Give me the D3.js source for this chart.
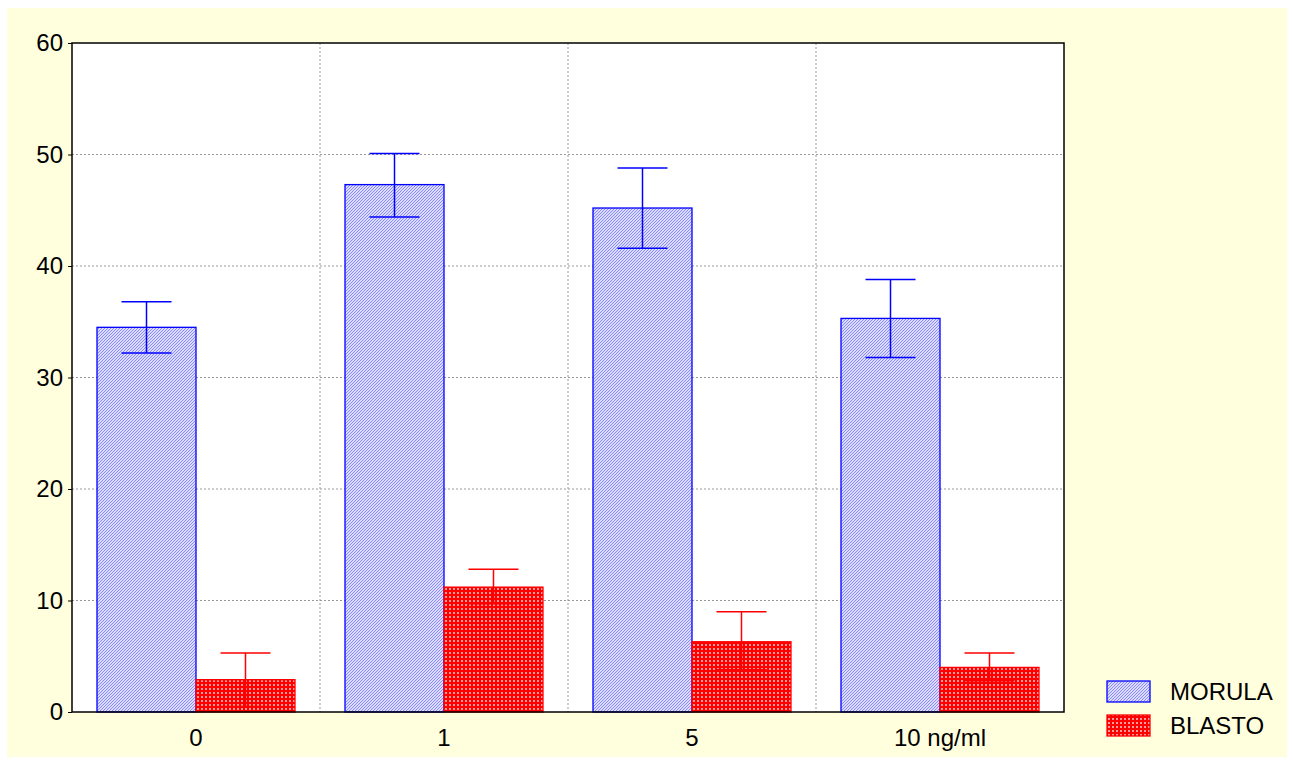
<!DOCTYPE html>
<html>
<head>
<meta charset="utf-8">
<script src="https://cdn.jsdelivr.net/npm/d3@7"></script>
<style>
  body { margin: 0; background: #fff; }
  text { font-family: "Liberation Sans", Arial, sans-serif; }
</style>
</head>
<body>
<div id="container"></div>
<script>
const w = 1293, h = 764;
const categories = ["0", "1", "5", "10 ng/ml"];
const series = ["MORULA", "BLASTO"];
const morula = [34.5, 47.3, 45.2, 35.3];
const morulaLo = [32.2, 44.4, 41.6, 31.8];
const morulaHi = [36.8, 50.1, 48.8, 38.8];
const blasto = [2.9, 11.2, 6.3, 4.0];
const blastoLo = [0.5, 9.7, 3.8, 2.8];
const blastoHi = [5.3, 12.8, 9.0, 5.3];
const yTicks = [0, 10, 20, 30, 40, 50, 60];

const margin = {top: 43, right: 229, bottom: 52, left: 72};
const colors = {MORULA: "#0000ff", BLASTO: "#ff0000"};

var svg = d3.select("div#container")
    .append("svg")
    .attr("width", w)
    .attr("height", h);

// patterns for the hatched fills
var defs = svg.append("defs");
var pm = defs.append("pattern")
    .attr("id", "hatch-blue")
    .attr("patternUnits", "userSpaceOnUse")
    .attr("width", 3).attr("height", 3);
pm.append("rect").attr("width", 3).attr("height", 3).attr("fill", "#dcdcff");
pm.append("path").attr("d", "M0,3 L3,0 M-1,1 L1,-1 M2,4 L4,2")
    .attr("stroke", "#8080ff").attr("stroke-width", 0.9);

var pb = defs.append("pattern")
    .attr("id", "grid-red")
    .attr("patternUnits", "userSpaceOnUse")
    .attr("width", 4).attr("height", 4);
pb.append("rect").attr("width", 4).attr("height", 4).attr("fill", "#ff0000");
pb.append("rect").attr("x", 1).attr("y", 1).attr("width", 2).attr("height", 2).attr("fill", "#ff9a9a");

var fills = {MORULA: "url(#hatch-blue)", BLASTO: "url(#grid-red)"};

// yellow background
svg.append("rect")
    .attr("x", 7).attr("y", 8)
    .attr("width", 1280).attr("height", 749)
    .attr("fill", "#ffffde");

var plotW = w - margin.left - margin.right,
    plotH = h - margin.top - margin.bottom;

var g = svg.append("g").attr("transform", "translate(" + margin.left + "," + margin.top + ")");

g.append("rect").attr("width", plotW).attr("height", plotH).attr("fill", "#fff");

var x0 = d3.scaleBand().domain(categories).range([0, plotW]).paddingInner(0).paddingOuter(0);
var x1 = d3.scaleBand().domain(series).range([25, x0.bandwidth() - 25]);
var y = d3.scaleLinear().domain([0, 60]).range([plotH, 0]);

// grid
g.selectAll(".hgrid").data(yTicks.slice(1, -1)).enter().append("line")
    .attr("x1", 0).attr("x2", plotW)
    .attr("y1", d => y(d)).attr("y2", d => y(d))
    .attr("stroke", "#999").attr("stroke-dasharray", "2,2");
g.selectAll(".vgrid").data(categories.slice(1)).enter().append("line")
    .attr("x1", d => x0(d)).attr("x2", d => x0(d))
    .attr("y1", 0).attr("y2", plotH)
    .attr("stroke", "#999").attr("stroke-dasharray", "2,2");

var rows = categories.map((c, i) => [
    {cat: c, s: "MORULA", v: morula[i], lo: morulaLo[i], hi: morulaHi[i]},
    {cat: c, s: "BLASTO", v: blasto[i], lo: blastoLo[i], hi: blastoHi[i]}
]).flat();

// bars
g.selectAll(".bar").data(rows).enter().append("rect")
    .attr("x", d => x0(d.cat) + x1(d.s))
    .attr("y", d => y(d.v))
    .attr("width", x1.bandwidth())
    .attr("height", d => y(0) - y(d.v))
    .attr("fill", d => fills[d.s])
    .attr("stroke", d => colors[d.s])
    .attr("stroke-width", 1.3);

// error bars
var eb = g.selectAll(".err").data(rows).enter().append("g")
    .attr("stroke", d => colors[d.s]).attr("stroke-width", 1.5);
eb.append("line")
    .attr("x1", d => x0(d.cat) + x1(d.s) + x1.bandwidth() / 2)
    .attr("x2", d => x0(d.cat) + x1(d.s) + x1.bandwidth() / 2)
    .attr("y1", d => y(d.lo)).attr("y2", d => y(d.hi));
eb.selectAll(".cap").data(d => [d.lo, d.hi].map(v => ({d: d, v: v}))).enter().append("line")
    .attr("x1", e => x0(e.d.cat) + x1(e.d.s) + x1.bandwidth() / 2 - 25)
    .attr("x2", e => x0(e.d.cat) + x1(e.d.s) + x1.bandwidth() / 2 + 25)
    .attr("y1", e => y(e.v)).attr("y2", e => y(e.v));

// frame
g.append("rect").attr("width", plotW).attr("height", plotH)
    .attr("fill", "none").attr("stroke", "#000").attr("stroke-width", 1.5);

// axes
var yAxis = g.append("g").call(d3.axisLeft(y).tickValues(yTicks).tickSize(4).tickPadding(5));
yAxis.select(".domain").remove();
yAxis.selectAll("line").attr("stroke", "#000");
yAxis.selectAll("text").style("font-size", "24px").attr("fill", "#000");

var xAxis = g.append("g").attr("transform", "translate(0," + plotH + ")")
    .call(d3.axisBottom(x0).tickSize(0).tickPadding(17));
xAxis.select(".domain").remove();
xAxis.selectAll("text").style("font-size", "24px").attr("fill", "#000");

// legend
var legend = svg.append("g").attr("transform", "translate(1107,681)");
legend.selectAll("rect").data(series).enter().append("rect")
    .attr("x", 0).attr("y", (d, i) => i * 34)
    .attr("width", 43).attr("height", 21)
    .attr("fill", d => fills[d]).attr("stroke", d => colors[d]).attr("stroke-width", 1.3);
legend.selectAll("text").data(series).enter().append("text")
    .attr("x", 63).attr("y", (d, i) => i * 34 + 19)
    .style("font-size", "24px")
    .text(d => d);
</script>
</body>
</html>
